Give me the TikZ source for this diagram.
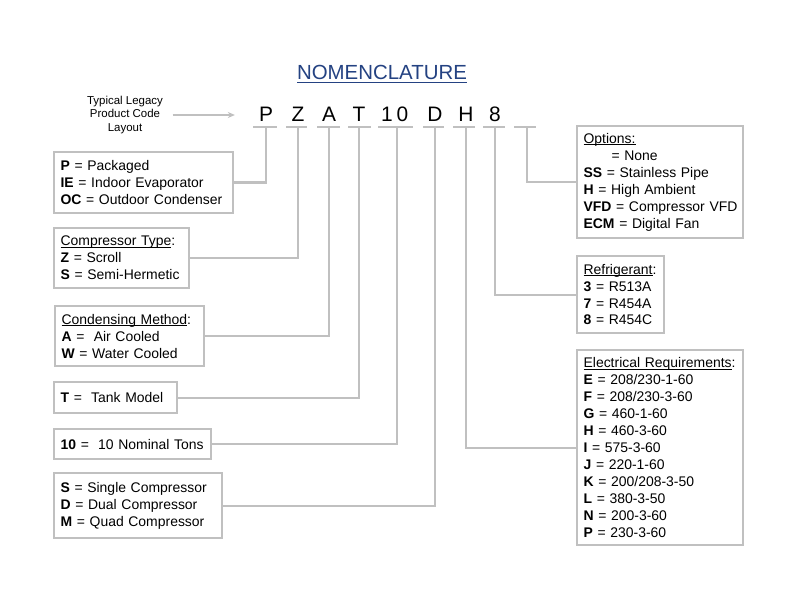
\documentclass[tikz,border=0pt]{standalone}
\usepackage{fontspec}
\setmainfont{Liberation Sans}
\usetikzlibrary{arrows.meta}
\definecolor{lg}{RGB}{192,192,192}
\definecolor{titleblue}{RGB}{36,66,130}
\newcommand\myul[3]{\setbox0\hbox{#3}\rlap{\rule[-#1]{\wd0}{#2}}\box0}
\begin{document}
\begin{tikzpicture}[x=1bp,y=-1bp,
  ln/.style={draw=lg,line width=2.2bp},
  box/.style={draw=lg,line width=2.2bp,anchor=north west,align=left,
    inner xsep=6.5bp,inner ysep=0pt,font=\fontsize{14}{17}\selectfont},
  codech/.style={anchor=base,inner sep=0pt,font=\fontsize{21}{25}\selectfont},
  arr/.style={draw=lg,line width=1.6bp,-{Stealth[length=7bp,width=6bp]}}]
\useasboundingbox[fill=white] (0,0) rectangle (792,612);

% title
\node[anchor=base,inner sep=0pt,text=titleblue,font=\fontsize{20.5}{24}\selectfont] (title) at (382,79.5) {\myul{3.6bp}{1.4bp}{NOMENCLATURE}};

% legacy label
\node[align=center,inner sep=0pt,font=\fontsize{11.5}{14}\selectfont] (legacy) at (125,115) {Typical Legacy\\Product Code\\Layout};

% code characters
\node[codech] (cP) at (266,121.7) {P};
\node[codech] (cZ) at (298,121.7) {Z};
\node[codech] (cA) at (329,121.7) {A};
\node[codech] (cT) at (359,121.7) {T};
\node[codech] (c10) at (394.7,121.7) {1\kern4.1bp 0};
\node[codech] (cD) at (435,121.7) {D};
\node[codech] (cH) at (466,121.7) {H};
\node[codech] (c8) at (495,121.7) {8};

\draw[arr,shorten <=9.5bp,shorten >=24bp] (legacy.east) -- (cP.west |- legacy.east);

% dash points
\coordinate (d1) at (266,127);
\coordinate (d2) at (298,127);
\coordinate (d3) at (329,127);
\coordinate (d4) at (359,127);
\coordinate (d5) at (397,127);
\coordinate (d6) at (435,127);
\coordinate (d7) at (466,127);
\coordinate (d8) at (495,127);
\coordinate (d9) at (527,127);
\draw[ln] (253,127) -- (277,127);
\draw[ln] (286,127) -- (307,127);
\draw[ln] (317,127) -- (340,127);
\draw[ln] (348,127) -- (371,127);
\draw[ln] (378,127) -- (413,127);
\draw[ln] (423,127) -- (444,127);
\draw[ln] (453,127) -- (475,127);
\draw[ln] (483,127) -- (505,127);
\draw[ln] (514,127) -- (536,127);

% left boxes
\node[box,text width=166bp,minimum height=61bp] (b1) at (53,151)
  {\textbf{P} = Packaged\\\textbf{IE} = Indoor Evaporator\\\textbf{OC} = Outdoor Condenser};
\node[box,text width=122bp,minimum height=60bp] (b2) at (53,227)
  {\myul{2bp}{0.9bp}{Compressor Type}:\\\textbf{Z} = Scroll\\\textbf{S} = Semi-Hermetic};
\node[box,text width=136bp,minimum height=60bp] (b3) at (54,305)
  {\myul{2bp}{0.9bp}{Condensing Method}:\\\textbf{A} = \ Air Cooled\\\textbf{W} = Water Cooled};
\node[box,text width=110bp,minimum height=31bp] (b4) at (53,381)
  {\textbf{T} = \ Tank Model};
\node[box,text width=144bp,minimum height=30bp] (b5) at (53,428)
  {\mbox{\textbf{10} = \ 10 Nominal Tons}};
\node[box,text width=155bp,minimum height=65bp] (b6) at (53,472)
  {\textbf{S} = Single Compressor\\\textbf{D} = Dual Compressor\\\textbf{M} = Quad Compressor};

% right boxes
\node[box,text width=153bp,minimum height=112bp] (opt) at (576,125)
  {\myul{2bp}{0.9bp}{Options:}\\\hspace*{28bp}= None\\\textbf{SS} = Stainless Pipe\\\textbf{H} = High Ambient\\\mbox{\textbf{VFD} = Compressor VFD}\\\textbf{ECM} = Digital Fan};
\node[box,text width=74bp,minimum height=77bp] (ref) at (576,255)
  {\mbox{\myul{2bp}{0.9bp}{Refrigerant}:}\\\textbf{3} = R513A\\\textbf{7} = R454A\\\textbf{8} = R454C};
\node[box,text width=153bp,minimum height=195bp] (elec) at (576,349)
  {\mbox{\myul{2bp}{0.9bp}{Electrical Requirements}:}\\\textbf{E} = 208/230-1-60\\\textbf{F} = 208/230-3-60\\\textbf{G} = 460-1-60\\\textbf{H} = 460-3-60\\\textbf{I} = 575-3-60\\\textbf{J} = 220-1-60\\\textbf{K} = 200/208-3-50\\\textbf{L} = 380-3-50\\\textbf{N} = 200-3-60\\\textbf{P} = 230-3-60};

% connectors
\draw[ln] (b1.east) -| (d1);
\draw[ln] (b2.east) -| (d2);
\draw[ln] (b3.east) -| (d3);
\draw[ln] (b4.east) -| (d4);
\draw[ln] (b5.east) -| (d5);
\draw[ln] (b6.east) -| (d6);
\draw[ln] (d9) |- (opt.west);
\draw[ln] (d8) |- (ref.west);
\draw[ln] (d7) |- (elec.west);
\end{tikzpicture}
\end{document}
